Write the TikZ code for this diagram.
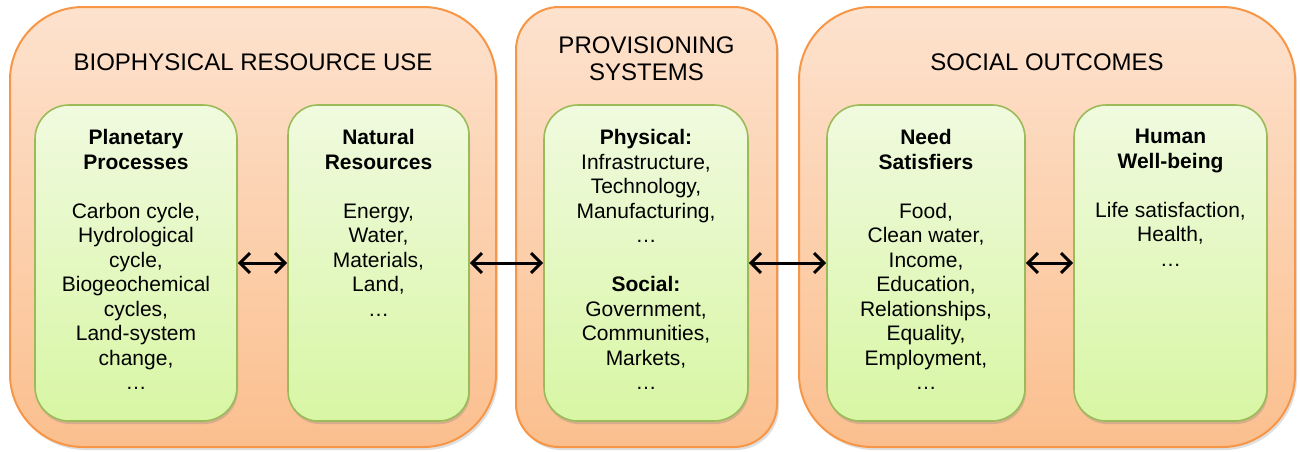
\documentclass[tikz,border=0pt]{standalone}
\usepackage{fontspec}
\setmainfont{Liberation Sans}
\usetikzlibrary{arrows.meta,shadows}

\definecolor{peachtop}{HTML}{FDE2CE}
\definecolor{peachbot}{HTML}{FBBF8E}
\definecolor{peachline}{HTML}{F79646}
\definecolor{limetop}{HTML}{F0FADF}
\definecolor{limebot}{HTML}{D8F6A4}
\definecolor{limeline}{HTML}{9BBB59}

\tikzset{
  panel/.style={draw=peachline, line width=2pt, top color=peachtop, bottom color=peachbot,
    minimum height=440pt, inner sep=0pt,
    drop shadow={shadow xshift=2pt, shadow yshift=-3pt, opacity=0.25}},
  box/.style={draw=limeline, line width=1.6pt, top color=limetop, bottom color=limebot,
    minimum height=316pt, inner sep=0pt,
    drop shadow={shadow xshift=1pt, shadow yshift=-3pt, opacity=0.3}},
  heading/.style={anchor=north, inner sep=0pt, align=center, font=\fontsize{24pt}{27pt}\selectfont},
  boxtext/.style={anchor=north, inner sep=0pt, align=center, font=\fontsize{21pt}{24.5pt}\selectfont},
  link/.style={{Straight Barb[length=10pt,width=20pt]}-{Straight Barb[length=10pt,width=20pt]}, line width=3pt}
}

\begin{document}
\begin{tikzpicture}[x=1pt,y=-1pt]
  \useasboundingbox (0,0) rectangle (1300,451);
  % outer panels
  \node[panel, minimum width=486pt, rounded corners=73pt] (bio) at (253,227) {};
  \node[panel, minimum width=261pt, rounded corners=43pt] (prov) at (646.5,227) {};
  \node[panel, minimum width=496pt, rounded corners=73pt] (soc) at (1047,227) {};
  % panel titles
  \node[heading] (bio-title) at (253,54) {BIOPHYSICAL RESOURCE USE};
  \node[heading] (prov-title) at (646.5,37) {PROVISIONING\\SYSTEMS};
  \node[heading] (soc-title) at (1047,54) {SOCIAL OUTCOMES};
  % inner boxes
  \node[box, minimum width=202pt, rounded corners=34pt] (pp) at (136,263) {};
  \node[box, minimum width=181pt, rounded corners=30pt] (nr) at (378.5,263) {};
  \node[box, minimum width=204pt, rounded corners=34pt] (ps) at (646,263) {};
  \node[box, minimum width=198pt, rounded corners=33pt] (ns) at (926,263) {};
  \node[box, minimum width=193pt, rounded corners=32pt] (hw) at (1170.5,263) {};
  % box texts
  \node[boxtext] (pp-txt) at ([yshift=-25pt]pp.north) {\textbf{Planetary}\\\textbf{Processes}\\[24.5pt]
    Carbon cycle,\\Hydrological\\cycle,\\Biogeochemical\\cycles,\\Land-system\\change,\\…};
  \node[boxtext] (nr-txt) at ([yshift=-25pt]nr.north) {\textbf{Natural}\\\textbf{Resources}\\[24.5pt]
    Energy,\\Water,\\Materials,\\Land,\\…};
  \node[boxtext] (ps-txt) at ([yshift=-25pt]ps.north) {\textbf{Physical:}\\Infrastructure,\\Technology,\\Manufacturing,\\…\\[24.5pt]
    \textbf{Social:}\\Government,\\Communities,\\Markets,\\…};
  \node[boxtext] (ns-txt) at ([yshift=-25pt]ns.north) {\textbf{Need}\\\textbf{Satisfiers}\\[24.5pt]
    Food,\\Clean water,\\Income,\\Education,\\Relationships,\\Equality,\\Employment,\\…};
  \node[boxtext] (hw-txt) at ([yshift=-25pt]hw.north) {\textbf{Human}\\\textbf{Well-being}\\[24.5pt]
    Life satisfaction,\\Health,\\…};
  % arrows
  \draw[link] (pp) -- (nr);
  \draw[link] (nr) -- (ps);
  \draw[link] (ps) -- (ns);
  \draw[link] (ns) -- (hw);
\end{tikzpicture}
\end{document}
